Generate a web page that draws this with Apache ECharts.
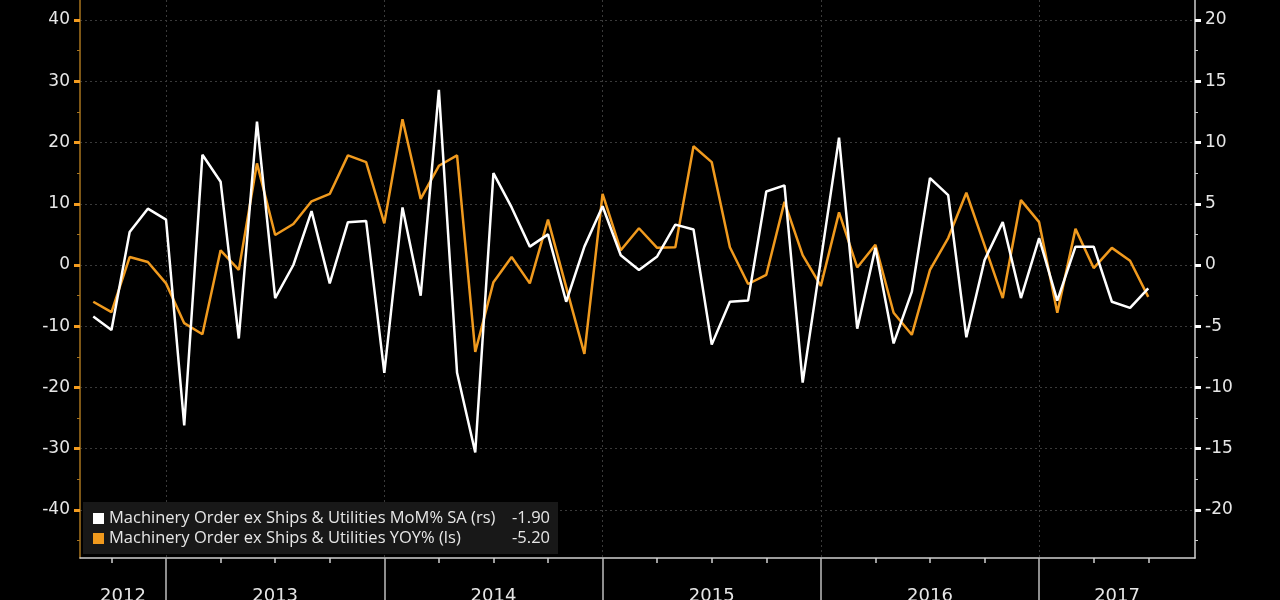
<!DOCTYPE html>
<html>
<head>
<meta charset="utf-8">
<script src="https://cdn.jsdelivr.net/npm/echarts@6/dist/echarts.min.js"></script>
<style>
  html, body { margin: 0; padding: 0; background: #000; }
  #chart { width: 1280px; height: 600px; }
</style>
</head>
<body>
<div id="chart"></div>
<script>
// monthly observations, Sep 2012 .. Jul 2017
var startMonth = '2012-09';
var years = ['2012', '2013', '2014', '2015', '2016', '2017'];
var leftTicks = [-40, -30, -20, -10, 0, 10, 20, 30, 40];
var rightTicks = [-20, -15, -10, -5, 0, 5, 10, 15, 20];

var momName = 'Machinery Order ex Ships & Utilities MoM% SA (rs)';
var yoyName = 'Machinery Order ex Ships & Utilities YOY% (ls)';
var momLast = '-1.90';
var yoyLast = '-5.20';

// MoM% SA, right scale
var momValues = [
  -4.2, -5.3, 2.7, 4.6, 3.7, -13.1, 9.0, 6.8, -6.0, 11.7,
  -2.7, 0.0, 4.4, -1.5, 3.5, 3.6, -8.8, 4.7, -2.5, 14.3,
  -8.8, -15.3, 7.5, 4.7, 1.5, 2.5, -3.0, 1.5, 4.8, 0.8,
  -0.4, 0.7, 3.3, 2.9, -6.5, -3.0, -2.9, 6.0, 6.5, -9.6,
  0.4, 10.4, -5.2, 1.4, -6.4, -2.2, 7.1, 5.7, -5.9, 0.4,
  3.5, -2.7, 2.2, -2.9, 1.5, 1.5, -3.0, -3.5, -1.9
];

// YOY%, left scale
var yoyValues = [
  -6.0, -7.7, 1.3, 0.5, -3.0, -9.5, -11.3, 2.4, -0.8, 16.6,
  4.9, 6.7, 10.4, 11.6, 17.9, 16.8, 6.8, 23.8, 10.8, 16.2,
  17.9, -14.2, -2.8, 1.3, -3.0, 7.4, -3.6, -14.5, 11.6, 2.4,
  6.0, 2.8, 2.9, 19.4, 16.8, 2.9, -3.1, -1.6, 10.3, 1.6,
  -3.4, 8.6, -0.4, 3.3, -7.8, -11.4, -0.8, 4.4, 11.8, 3.2,
  -5.4, 10.6, 7.0, -7.8, 5.9, -0.5, 2.8, 0.7, -5.2
];

var baseYear = 2012;
var startIdx = (+startMonth.slice(0, 4) - baseYear) * 12 + (+startMonth.slice(5, 7) - 1);
function toPoints(vals) {
  return vals.map(function (v, i) { return [startIdx + i, v]; });
}

// visible x span in months from Jan 2012
var xMin = 7.27, xMax = 68.57;
var yearTicks = [], quarterTicks = [], yearLabelPos = [];
for (var k = 1; k < years.length; k++) yearTicks.push(k * 12);
for (var q = 0; q < 72; q += 3) {
  if (q > xMin && q < xMax && q % 12 !== 0) quarterTicks.push(q);
}
years.forEach(function (y, k) {
  var a = Math.max(k * 12, xMin), b = Math.min(k * 12 + 12, xMax);
  yearLabelPos.push((a + b) / 2);
});

var leftMin = -47.84, leftMax = 43.27;
var leftMinor = leftTicks.slice(0, -1).map(function (t) { return t - 5; }).concat([35]);
var rightMinor = rightTicks.slice(0, -1).map(function (t) { return t - 2.5; }).concat([17.5]);

var labelFont = 'DejaVu Sans';
var legendFont = 'Open Sans';
var chart = echarts.init(document.getElementById('chart'));

var option = {
  backgroundColor: '#000000',
  animation: false,
  grid: { left: 80, right: 85, top: 0, bottom: 42, containLabel: false, outerBoundsMode: 'none' },
  legend: {
    left: 83,
    top: 502,
    orient: 'vertical',
    icon: 'rect',
    itemWidth: 11,
    itemHeight: 11,
    itemGap: 3,
    padding: [8, 8, 7, 10],
    backgroundColor: '#181818',
    data: [momName, yoyName],
    formatter: function (name) {
      var v = name === momName ? momLast : yoyLast;
      return '{n|' + name + '}{v|' + v + '}';
    },
    textStyle: {
      color: '#e6e6e6',
      fontFamily: legendFont,
      fontSize: 16,
      rich: {
        n: { width: 398, fontFamily: legendFont, fontSize: 16.5, color: '#e6e6e6' },
        v: { width: 43, align: 'right', fontFamily: legendFont, fontSize: 16.5, color: '#e6e6e6' }
      }
    }
  },
  xAxis: [{
    type: 'value',
    min: xMin,
    max: xMax,
    position: 'bottom',
    axisLine: { show: true, onZero: false, lineStyle: { color: '#cfcfcf', width: 1.5 } },
    axisTick: { show: true, customValues: yearTicks, length: 45, lineStyle: { color: '#bdbdbd', width: 1.5 } },
    axisLabel: {
      show: true,
      customValues: yearLabelPos,
      margin: 29,
      color: '#e6e6e6',
      fontFamily: labelFont,
      fontSize: 18,
      formatter: function (v) { return years[Math.min(Math.floor(v / 12), years.length - 1)]; }
    },
    splitLine: { show: true, lineStyle: { color: '#3a3a3a', type: [2, 3], width: 1 } }
  }, {
    type: 'value',
    min: xMin,
    max: xMax,
    position: 'bottom',
    axisLine: { show: false, onZero: false },
    axisTick: { show: true, customValues: quarterTicks, length: 5, lineStyle: { color: '#cfcfcf', width: 1.5 } },
    axisLabel: { show: false },
    splitLine: { show: false }
  }],
  yAxis: [{
    type: 'value',
    position: 'left',
    min: leftMin,
    max: leftMax,
    axisLine: { show: true, onZero: false, lineStyle: { color: '#a8741e', width: 1.5 } },
    axisTick: { show: true, customValues: leftTicks, length: 6, lineStyle: { color: '#f39c1f', width: 3 } },
    axisLabel: { show: true, customValues: leftTicks, margin: 10, color: '#e6e6e6', fontFamily: labelFont, fontSize: 17 },
    splitLine: { show: true, lineStyle: { color: '#3a3a3a', type: [2, 3], width: 1 } }
  }, {
    type: 'value',
    position: 'right',
    min: leftMin / 2,
    max: leftMax / 2,
    axisLine: { show: true, onZero: false, lineStyle: { color: '#cfcfcf', width: 1.5 } },
    axisTick: { show: true, customValues: rightTicks, length: 6, lineStyle: { color: '#ffffff', width: 3 } },
    axisLabel: { show: true, customValues: rightTicks, margin: 10, color: '#e6e6e6', fontFamily: labelFont, fontSize: 17 },
    splitLine: { show: false }
  }, {
    type: 'value',
    position: 'left',
    min: leftMin,
    max: leftMax,
    axisLine: { show: false, onZero: false },
    axisTick: { show: true, customValues: leftMinor, length: 3, lineStyle: { color: '#a8741e', width: 1 } },
    axisLabel: { show: false },
    splitLine: { show: false }
  }, {
    type: 'value',
    position: 'right',
    min: leftMin / 2,
    max: leftMax / 2,
    axisLine: { show: false, onZero: false },
    axisTick: { show: true, customValues: rightMinor, length: 3, lineStyle: { color: '#cfcfcf', width: 1 } },
    axisLabel: { show: false },
    splitLine: { show: false }
  }],
  series: [{
    name: yoyName,
    type: 'line',
    xAxisIndex: 0,
    yAxisIndex: 0,
    data: toPoints(yoyValues),
    symbol: 'none',
    itemStyle: { color: '#f09a1e' },
    lineStyle: { color: '#f09a1e', width: 2.5 },
    z: 3
  }, {
    name: momName,
    type: 'line',
    xAxisIndex: 0,
    yAxisIndex: 1,
    data: toPoints(momValues),
    symbol: 'none',
    itemStyle: { color: '#ffffff' },
    lineStyle: { color: '#ffffff', width: 2.5 },
    z: 4
  }]
};

chart.setOption(option);
window.addEventListener('resize', chart.resize);
</script>
</body>
</html>
